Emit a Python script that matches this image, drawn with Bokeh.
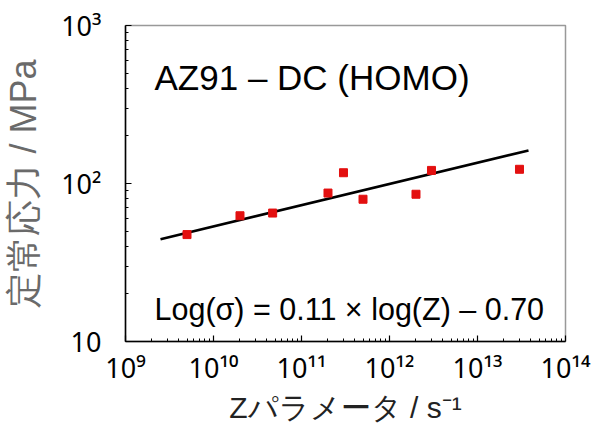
from bokeh.plotting import figure
from bokeh.models import Label, FixedTicker, Range1d
from bokeh.embed import file_html
from bokeh.resources import INLINE

# ---- data ----
z_param = [5e9, 2e10, 4.7e10, 2e11, 3e11, 5e11, 2e12, 3e12, 3e13]
stress = [47.5, 62.5, 65, 87, 117, 79.5, 85.5, 121, 123]
fit_z = [2.5e9, 3.8e13]
fit_stress = [44.4, 161.8]
x_decades = [9, 10, 11, 12, 13, 14]
x_tick_labels = ["10⁹", "10¹⁰", "10¹¹", "10¹²", "10¹³", "10¹⁴"]
y_decades = [1, 2, 3]
y_tick_labels = ["10", "10²", "10³"]
title_text = "AZ91 – DC (HOMO)"
eq_text = "Log(σ) = 0.11 × log(Z) – 0.70"
x_label = "Zパラメータ / s⁻¹"
y_label = "定常応力 / MPa"

FONT = "Liberation Sans"
TICK_FONT = "Noto Sans"

p = figure(x_axis_type="log", y_axis_type="log",
           x_range=Range1d(1e9, 1e14), y_range=Range1d(10, 1000),
           frame_width=440, frame_height=316,
           min_border_left=119, min_border_right=38,
           min_border_top=25, min_border_bottom=82,
           output_backend="svg", toolbar_location=None,
           background_fill_color="white", border_fill_color="white")

p.xgrid.visible = False
p.ygrid.visible = False
p.outline_line_color = "#999999"
p.outline_line_width = 1.5

x_major = [10.0 ** k for k in x_decades]
x_minor = [m * 10.0 ** k for k in x_decades[:-1] for m in range(2, 10)]
y_major = [10.0 ** k for k in y_decades]
y_minor = [m * 10.0 ** k for k in y_decades[:-1] for m in range(2, 10)]
p.xaxis.ticker = FixedTicker(ticks=x_major, minor_ticks=x_minor)
p.yaxis.ticker = FixedTicker(ticks=y_major, minor_ticks=y_minor)
p.xaxis.major_label_overrides = {t: s for t, s in zip(x_major, x_tick_labels)}
p.yaxis.major_label_overrides = {t: s for t, s in zip(y_major, y_tick_labels)}

for ax in (p.xaxis[0], p.yaxis[0]):
    ax.axis_line_color = "black"
    ax.axis_line_width = 1.5
    ax.major_tick_in = 6
    ax.major_tick_out = 0
    ax.minor_tick_in = 3
    ax.minor_tick_out = 0
    ax.major_tick_line_color = "black"
    ax.minor_tick_line_color = "black"
    ax.major_tick_line_width = 1.2
    ax.minor_tick_line_width = 1
    ax.major_label_text_font = TICK_FONT
    ax.major_label_text_font_size = "27px"
    ax.major_label_text_color = "black"
    ax.axis_label_text_font = FONT
    ax.axis_label_text_font_style = "normal"

p.xaxis.major_label_standoff = 7
p.yaxis.major_label_standoff = 24
p.xaxis.axis_label = x_label
p.xaxis.axis_label_text_font_size = "30px"
p.xaxis.axis_label_text_color = "#222222"
p.xaxis.axis_label_standoff = 2
p.yaxis.axis_label = y_label
p.yaxis.axis_label_text_font_size = "36px"
p.yaxis.axis_label_text_color = "#6a6a6a"
p.yaxis.axis_label_standoff = 14

# fit line and data
p.line(fit_z, fit_stress, line_color="black", line_width=2.6)
p.scatter(z_param, stress, marker="square", size=8, fill_color="#e31010",
          line_color="#e31010")

# in-plot texts
p.add_layout(Label(x=1e9, y=1000, text=title_text, x_offset=29, y_offset=-52,
                   text_align="left", text_baseline="alphabetic",
                   text_font=FONT, text_font_size="35px", text_color="black"))
p.add_layout(Label(x=1e9, y=10, text=eq_text, x_offset=29, y_offset=33,
                   text_align="left", text_baseline="alphabetic",
                   text_font=FONT, text_font_size="30.5px", text_color="black"))

open("out.html", "w").write(file_html(p, INLINE))
